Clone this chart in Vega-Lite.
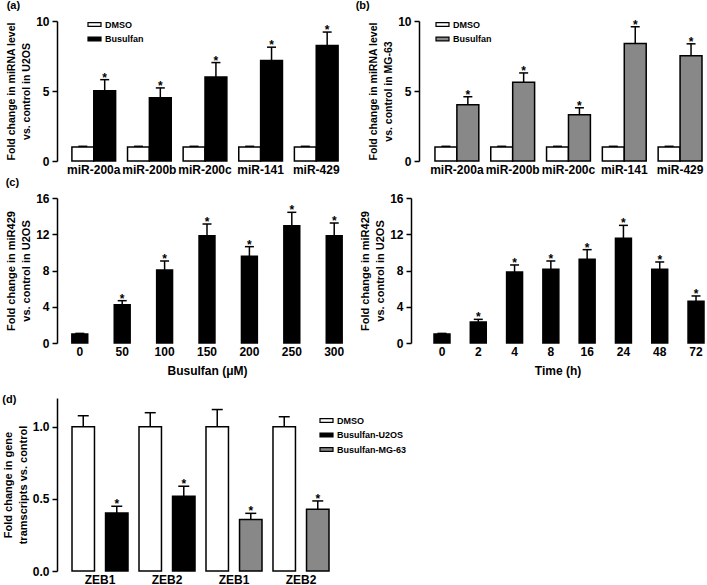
{
"$schema":"https://vega.github.io/schema/vega-lite/v6.json",
"padding":{"left":2,"top":0,"right":0,"bottom":0},
"background":"white",
"config":{
 "font":"Liberation Sans",
 "view":{"stroke":null},
 "axis":{"grid":false,"labelOverlap":false,"labelFont":"Liberation Sans","labelFontWeight":"bold","labelFontSize":12,"labelColor":"black","titleFont":"Liberation Sans","titleFontWeight":"bold","titleColor":"black","domainColor":"black","tickColor":"black","domainWidth":1.5,"tickWidth":1.5},
 "axisY":{"titleFontSize":11,"titleLineHeight":15,"tickSize":5,"labelPadding":3,"titlePadding":4,"labelOverlap":false},
 "axisX":{"domain":false,"ticks":false,"labelAngle":0,"labelPadding":3,"titleFontSize":12,"titlePadding":8},
 "title":{"font":"Liberation Sans","fontSize":11,"fontWeight":"bold","anchor":"start","frame":"bounds","offset":0,"color":"black"},
 "legend":{"labelFont":"Liberation Sans","labelFontWeight":"bold","labelFontSize":9,"labelColor":"black","symbolType":"M-1,-0.3H1V0.3H-1Z","symbolSize":169,"symbolStrokeColor":"black","symbolStrokeWidth":1.2,"labelOffset":3,"rowPadding":1.5,"orient":"none","symbolOpacity":1}
},
"datasets":{
 "u2os":[
  {"miRNA":"miR-200a","group":"DMSO","value":1.0,"err":1.05,"sig":""},
  {"miRNA":"miR-200a","group":"Busulfan","value":5.02,"err":5.81,"sig":"*"},
  {"miRNA":"miR-200b","group":"DMSO","value":1.0,"err":1.05,"sig":""},
  {"miRNA":"miR-200b","group":"Busulfan","value":4.52,"err":5.22,"sig":"*"},
  {"miRNA":"miR-200c","group":"DMSO","value":1.0,"err":1.05,"sig":""},
  {"miRNA":"miR-200c","group":"Busulfan","value":6.0,"err":7.03,"sig":"*"},
  {"miRNA":"miR-141","group":"DMSO","value":1.0,"err":1.05,"sig":""},
  {"miRNA":"miR-141","group":"Busulfan","value":7.18,"err":8.13,"sig":"*"},
  {"miRNA":"miR-429","group":"DMSO","value":1.0,"err":1.05,"sig":""},
  {"miRNA":"miR-429","group":"Busulfan","value":8.25,"err":9.21,"sig":"*"}
 ],
 "mg63":[
  {"miRNA":"miR-200a","group":"DMSO","value":1.0,"err":1.05,"sig":""},
  {"miRNA":"miR-200a","group":"Busulfan","value":4.02,"err":4.59,"sig":"*"},
  {"miRNA":"miR-200b","group":"DMSO","value":1.0,"err":1.05,"sig":""},
  {"miRNA":"miR-200b","group":"Busulfan","value":5.62,"err":6.29,"sig":"*"},
  {"miRNA":"miR-200c","group":"DMSO","value":1.0,"err":1.05,"sig":""},
  {"miRNA":"miR-200c","group":"Busulfan","value":3.30,"err":3.80,"sig":"*"},
  {"miRNA":"miR-141","group":"DMSO","value":1.0,"err":1.05,"sig":""},
  {"miRNA":"miR-141","group":"Busulfan","value":8.40,"err":9.59,"sig":"*"},
  {"miRNA":"miR-429","group":"DMSO","value":1.0,"err":1.05,"sig":""},
  {"miRNA":"miR-429","group":"Busulfan","value":7.51,"err":8.37,"sig":"*"}
 ],
 "dose":[
  {"dose":0,"value":1.0,"err":1.06,"sig":""},
  {"dose":50,"value":4.23,"err":4.67,"sig":"*"},
  {"dose":100,"value":8.05,"err":9.05,"sig":"*"},
  {"dose":150,"value":11.84,"err":13.13,"sig":"*"},
  {"dose":200,"value":9.56,"err":10.63,"sig":"*"},
  {"dose":250,"value":12.95,"err":14.42,"sig":"*"},
  {"dose":300,"value":11.84,"err":13.24,"sig":"*"}
 ],
 "time":[
  {"time":0,"value":1.0,"err":1.06,"sig":""},
  {"time":2,"value":2.32,"err":2.61,"sig":"*"},
  {"time":4,"value":7.83,"err":8.61,"sig":"*"},
  {"time":8,"value":8.13,"err":9.05,"sig":"*"},
  {"time":16,"value":9.23,"err":10.30,"sig":"*"},
  {"time":24,"value":11.55,"err":12.98,"sig":"*"},
  {"time":48,"value":8.13,"err":8.94,"sig":"*"},
  {"time":72,"value":4.60,"err":5.19,"sig":"*"}
 ],
 "zeb":[
  {"gene":"ZEB1-U2OS","slot":"a","treatment":"DMSO","value":1.0,"err":1.077,"sig":""},
  {"gene":"ZEB1-U2OS","slot":"b","treatment":"Busulfan-U2OS","value":0.402,"err":0.449,"sig":"*"},
  {"gene":"ZEB2-U2OS","slot":"a","treatment":"DMSO","value":1.0,"err":1.098,"sig":""},
  {"gene":"ZEB2-U2OS","slot":"b","treatment":"Busulfan-U2OS","value":0.519,"err":0.588,"sig":"*"},
  {"gene":"ZEB1-MG-63","slot":"a","treatment":"DMSO","value":1.0,"err":1.12,"sig":""},
  {"gene":"ZEB1-MG-63","slot":"b","treatment":"Busulfan-MG-63","value":0.358,"err":0.40,"sig":"*"},
  {"gene":"ZEB2-MG-63","slot":"a","treatment":"DMSO","value":1.0,"err":1.07,"sig":""},
  {"gene":"ZEB2-MG-63","slot":"b","treatment":"Busulfan-MG-63","value":0.428,"err":0.486,"sig":"*"}
 ]
},
"spacing":18,
"resolve":{"scale":{"color":"independent","xOffset":"independent","x":"independent","y":"independent"},"legend":{"color":"independent"}},
"vconcat":[
 {"spacing":2,
  "resolve":{"scale":{"color":"independent","xOffset":"independent","x":"independent","y":"independent"},"legend":{"color":"independent"}},
  "vconcat":[
 {"hconcat":[
  {"title":{"text":"(a)"},
   "width":296,"height":140,
   "data":{"name":"u2os"},
   "encoding":{
    "x":{"field":"miRNA","type":"nominal","sort":["miR-200a","miR-200b","miR-200c","miR-141","miR-429"],"scale":{"paddingInner":0.214,"paddingOuter":0.268},"axis":{"title":null}},
    "xOffset":{"field":"group","type":"nominal","sort":["DMSO","Busulfan"],"scale":{"paddingInner":0,"paddingOuter":0}}
   },
   "layer":[
    {"mark":{"type":"bar","stroke":"black","strokeWidth":1.5},
     "encoding":{
      "y":{"field":"value","type":"quantitative","scale":{"domain":[0,10]},"axis":{"values":[0,5,10],"labelOverlap":false,"titleFontSize":10.5,"title":["Fold change in miRNA level","vs. control in U2OS"]}},
      "color":{"field":"group","type":"nominal","scale":{"domain":["DMSO","Busulfan"],"range":["white","black"]},"legend":{"title":null,"legendX":30,"legendY":-4}}}},
    {"mark":{"type":"rule","color":"black","strokeWidth":1.5},"encoding":{"y":{"field":"value","type":"quantitative"},"y2":{"field":"err"}}},
    {"mark":{"type":"tick","color":"black","thickness":1.5,"size":9,"opacity":1},"encoding":{"y":{"field":"err","type":"quantitative"}}},
    {"mark":{"type":"text","fontSize":12,"fontWeight":"bold","dy":2,"baseline":"alphabetic","color":"black"},"encoding":{"y":{"field":"err","type":"quantitative"},"text":{"field":"sig"}}}
   ]
  },
  {"title":{"text":"(b)","dx":-13},
   "width":283,"height":140,
   "data":{"name":"mg63"},
   "encoding":{
    "x":{"field":"miRNA","type":"nominal","sort":["miR-200a","miR-200b","miR-200c","miR-141","miR-429"],"scale":{"paddingInner":0.214,"paddingOuter":0.143,"align":1},"axis":{"title":null}},
    "xOffset":{"field":"group","type":"nominal","sort":["DMSO","Busulfan"],"scale":{"paddingInner":0,"paddingOuter":0}}
   },
   "layer":[
    {"mark":{"type":"bar","stroke":"black","strokeWidth":1.5},
     "encoding":{
      "y":{"field":"value","type":"quantitative","scale":{"domain":[0,10]},"axis":{"values":[0,5,10],"labelOverlap":false,"titleFontSize":10.5,"title":["Fold change in miRNA level","vs. control in MG-63"]}},
      "color":{"field":"group","type":"nominal","scale":{"domain":["DMSO","Busulfan"],"range":["white","#888888"]},"legend":{"title":null,"legendX":16,"legendY":-4}}}},
    {"mark":{"type":"rule","color":"black","strokeWidth":1.5},"encoding":{"y":{"field":"value","type":"quantitative"},"y2":{"field":"err"}}},
    {"mark":{"type":"tick","color":"black","thickness":1.5,"size":9,"opacity":1},"encoding":{"y":{"field":"err","type":"quantitative"}}},
    {"mark":{"type":"text","fontSize":12,"fontWeight":"bold","dy":2,"baseline":"alphabetic","color":"black"},"encoding":{"y":{"field":"err","type":"quantitative"},"text":{"field":"sig"}}}
   ]
  }
 ],"spacing":2,
 "resolve":{"scale":{"color":"independent","xOffset":"independent","x":"independent","y":"independent"},"legend":{"color":"independent"}}},
 {"hconcat":[
  {"title":{"text":"(c)"},
   "width":300,"height":145,
   "data":{"name":"dose"},
   "encoding":{
    "x":{"field":"dose","type":"ordinal","scale":{"paddingInner":0.625,"paddingOuter":0.35},"axis":{"title":"Busulfan (μM)"}}
   },
   "layer":[
    {"mark":{"type":"bar","color":"black","stroke":"black","strokeWidth":1.5},
     "encoding":{"y":{"field":"value","type":"quantitative","scale":{"domain":[0,16]},"axis":{"values":[0,4,8,12,16],"labelOverlap":false,"tickCount":5,"title":["Fold change in miR429","vs. control in U2OS"]}}}},
    {"mark":{"type":"rule","color":"black","strokeWidth":1.5},"encoding":{"y":{"field":"value","type":"quantitative"},"y2":{"field":"err"}}},
    {"mark":{"type":"tick","color":"black","thickness":1.5,"size":9,"opacity":1},"encoding":{"y":{"field":"err","type":"quantitative"}}},
    {"mark":{"type":"text","fontSize":12,"fontWeight":"bold","dy":2,"baseline":"alphabetic","color":"black"},"encoding":{"y":{"field":"err","type":"quantitative"},"text":{"field":"sig"}}}
   ]
  },
  {"title":{"text":" "},
   "width":293,"height":145,
   "data":{"name":"time"},
   "encoding":{
    "x":{"field":"time","type":"ordinal","scale":{"paddingInner":0.56,"paddingOuter":0.317,"align":1},"axis":{"title":"Time (h)"}}
   },
   "layer":[
    {"mark":{"type":"bar","color":"black","stroke":"black","strokeWidth":1.5},
     "encoding":{"y":{"field":"value","type":"quantitative","scale":{"domain":[0,16]},"axis":{"values":[0,4,8,12,16],"labelOverlap":false,"tickCount":5,"title":["Fold change in miR429","vs. control in U2OS"]}}}},
    {"mark":{"type":"rule","color":"black","strokeWidth":1.5},"encoding":{"y":{"field":"value","type":"quantitative"},"y2":{"field":"err"}}},
    {"mark":{"type":"tick","color":"black","thickness":1.5,"size":9,"opacity":1},"encoding":{"y":{"field":"err","type":"quantitative"}}},
    {"mark":{"type":"text","fontSize":12,"fontWeight":"bold","dy":2,"baseline":"alphabetic","color":"black"},"encoding":{"y":{"field":"err","type":"quantitative"},"text":{"field":"sig"}}}
   ]
  }
 ],"spacing":2,
 "resolve":{"scale":{"x":"independent","y":"independent"}}}
 ]},
 {"title":{"text":"(d)","offset":-7},
  "width":272,"height":173,
  "data":{"name":"zeb"},
  "encoding":{
   "x":{"field":"gene","type":"nominal","sort":["ZEB1-U2OS","ZEB2-U2OS","ZEB1-MG-63","ZEB2-MG-63"],"scale":{"paddingInner":0.164,"paddingOuter":0.112,"align":1},"axis":{"title":null,"labelExpr":"split(datum.label,'-')[0]"}},
   "xOffset":{"field":"slot","type":"nominal","sort":["a","b"],"scale":{"paddingInner":0.33,"paddingOuter":0}}
  },
  "layer":[
   {"mark":{"type":"bar","stroke":"black","strokeWidth":1.5},
    "encoding":{
     "y":{"field":"value","type":"quantitative","scale":{"domain":[0,1.2]},"axis":{"values":[0,0.5,1],"labelOverlap":false,"format":".1f","title":["Fold change in gene","tramscripts vs. control"]}},
     "color":{"field":"treatment","type":"nominal","scale":{"domain":["DMSO","Busulfan-U2OS","Busulfan-MG-63"],"range":["white","black","#888888"]},"legend":{"title":null,"legendX":262,"legendY":15,"rowPadding":1.5}}}},
   {"mark":{"type":"rule","color":"black","strokeWidth":1.5},"encoding":{"y":{"field":"value","type":"quantitative"},"y2":{"field":"err"}}},
   {"mark":{"type":"tick","color":"black","thickness":1.5,"size":11,"opacity":1},"encoding":{"y":{"field":"err","type":"quantitative"}}},
   {"mark":{"type":"text","fontSize":12,"fontWeight":"bold","dy":2,"baseline":"alphabetic","color":"black"},"encoding":{"y":{"field":"err","type":"quantitative"},"text":{"field":"sig"}}}
  ]
 }
]
}
